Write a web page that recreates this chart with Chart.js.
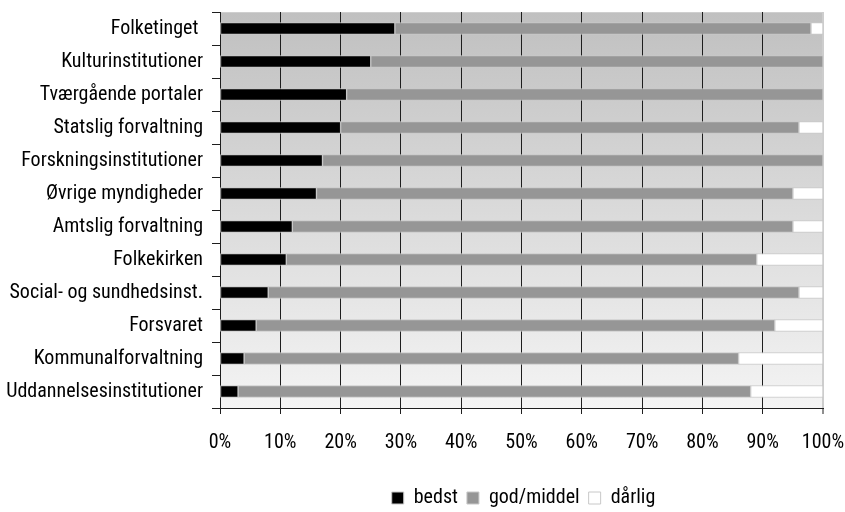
<!DOCTYPE html>
<html>
<head>
<meta charset="utf-8">
<script src="https://cdn.jsdelivr.net/npm/chart.js@4/dist/chart.umd.min.js"></script>
<style>
  html, body { margin: 0; padding: 0; background: #ffffff; }
  #wrap { width: 845px; height: 512px; position: relative; }
</style>
</head>
<body>
<div id="wrap"><canvas id="chart" width="845" height="512"></canvas></div>
<script>
// Institution types, top to bottom
const categories = [
  'Folketinget ',
  'Kulturinstitutioner',
  'Tværgående portaler',
  'Statslig forvaltning',
  'Forskningsinstitutioner',
  'Øvrige myndigheder',
  'Amtslig forvaltning',
  'Folkekirken',
  'Social- og sundhedsinst.',
  'Forsvaret',
  'Kommunalforvaltning',
  'Uddannelsesinstitutioner'
];

// Share of sites (%) per rating
const bedst      = [29, 25, 21, 20, 17, 16, 12, 11,  8,  6,  4,  3];
const godMiddel  = [69, 75, 79, 76, 83, 79, 83, 78, 88, 86, 82, 85];
const daarlig    = [ 2,  0,  0,  4,  0,  5,  5, 11,  4,  8, 14, 12];

const seriesNames = ['bedst', 'god/middel', 'dårlig'];
const percentTicks = [0, 10, 20, 30, 40, 50, 60, 70, 80, 90, 100];

const FONT = '"Roboto Condensed", "Liberation Sans", sans-serif';
const FONT_SIZE = 20;

// Gradient plot background with a light top edge
const plotBackground = {
  id: 'plotBackground',
  beforeDraw(chart) {
    const { ctx, chartArea: a } = chart;
    const g = ctx.createLinearGradient(0, a.top, 0, a.bottom);
    g.addColorStop(0, '#c0c0c0');
    g.addColorStop(1, '#f4f4f4');
    ctx.save();
    ctx.fillStyle = g;
    ctx.fillRect(a.left, a.top, a.right - a.left, a.bottom - a.top);
    ctx.strokeStyle = '#cfcfcf';
    ctx.lineWidth = 1;
    ctx.beginPath();
    ctx.moveTo(a.left, a.top + 0.5);
    ctx.lineTo(a.right, a.top + 0.5);
    ctx.stroke();
    ctx.restore();
  }
};

// Centre the legend under the plot area and set its vertical place
const legendUnderPlot = {
  id: 'legendUnderPlot',
  afterLayout(chart) {
    const lg = chart.legend, a = chart.chartArea;
    if (!lg) return;
    lg.left = a.left + 2;
    lg.right = a.right + 2;
    lg.width = lg.right - lg.left;
    const h = lg.bottom - lg.top;
    lg.top = 479;
    lg.bottom = lg.top + h;
  }
};

Chart.defaults.font.family = FONT;
Chart.defaults.font.size = FONT_SIZE;
Chart.defaults.color = '#000000';

new Chart(document.getElementById('chart'), {
  type: 'bar',
  data: {
    labels: categories,
    datasets: [
      { label: seriesNames[0], data: bedst,     backgroundColor: '#000000', borderColor: '#c8c8c8', borderWidth: 1 },
      { label: seriesNames[1], data: godMiddel, backgroundColor: '#969696', borderColor: '#c8c8c8', borderWidth: 1 },
      { label: seriesNames[2], data: daarlig,   backgroundColor: '#ffffff', borderColor: '#c8c8c8', borderWidth: 1 }
    ]
  },
  options: {
    indexAxis: 'y',
    responsive: false,
    animation: false,
    devicePixelRatio: 1,
    layout: { padding: { left: 0, right: 22, top: 12, bottom: 0 } },
    datasets: { bar: { barThickness: 12, borderSkipped: false } },
    plugins: {
      tooltip: { enabled: false },
      legend: {
        position: 'bottom',
        labels: {
          boxWidth: 12,
          boxHeight: 12,
          padding: 9,
          font: { family: FONT, size: FONT_SIZE },
          color: '#000000'
        }
      }
    },
    scales: {
      x: {
        stacked: true,
        min: 0,
        max: 100,
        afterBuildTicks(scale) {
          scale.ticks = percentTicks.map(v => ({ value: v }));
        },
        afterFit(scale) {
          scale.height = 104 - scale.chart.legend.height;
          scale.paddingLeft = 0;
          scale.paddingRight = 0;
        },
        ticks: {
          callback: v => v + '%',
          padding: 17,
          autoSkip: false,
          maxRotation: 0,
          font: { family: FONT, size: FONT_SIZE },
          color: '#000000'
        },
        grid: {
          drawOnChartArea: true,
          drawTicks: true,
          tickLength: 6,
          color: ctx => (ctx.index === percentTicks.length - 1 ? '#cdcdcd' : '#1e1e1e'),
          lineWidth: ctx => (ctx.index === percentTicks.length - 1 ? 2 : 1),
          tickColor: '#1e1e1e',
          tickWidth: 1
        },
        border: { display: true, color: '#1e1e1e', width: 1 }
      },
      y: {
        stacked: true,
        afterFit(scale) {
          scale.width = 220;
          scale.paddingTop = 0;
          scale.paddingBottom = 0;
        },
        ticks: {
          padding: 9,
          autoSkip: false,
          font: { family: FONT, size: FONT_SIZE },
          color: '#000000'
        },
        grid: {
          offset: true,
          drawOnChartArea: false,
          drawTicks: true,
          tickLength: 8,
          tickColor: '#1e1e1e',
          tickWidth: 1
        },
        border: { display: true, color: '#1e1e1e', width: 1 }
      }
    }
  },
  plugins: [plotBackground, legendUnderPlot]
});
</script>
</body>
</html>
